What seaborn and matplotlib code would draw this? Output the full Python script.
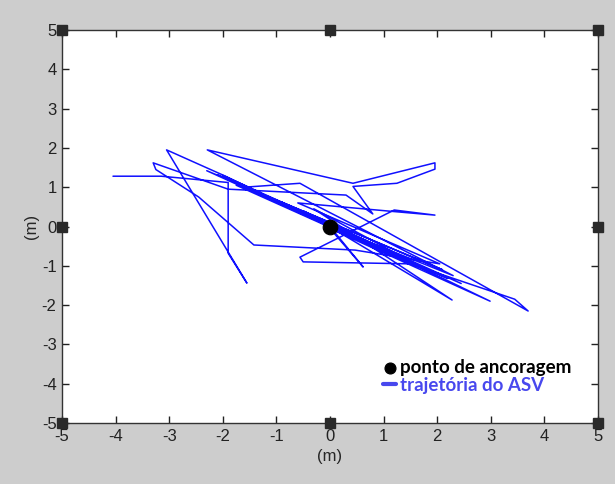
import pandas as pd
import matplotlib.pyplot as plt
import seaborn as sns

# trajectory of the ASV (m)
traj_x = [-4.05, -3.15, -1.90, -1.90, -1.55, -3.05, -1.95, 0.00, 2.30, -2.29,
          0.43, 1.96, 1.96, 1.25, 0.43, 0.80, 0.30, -1.90, -3.30, -3.25,
          -2.45, -1.42, 0.47, 2.05, -0.60, 1.20, 1.96, 1.20, -0.56, -0.50,
          1.50, 3.45, 3.70, -0.56, -1.60, 2.45, -2.00, 0.00, 0.62, 0.00,
          2.99, -0.50, 2.28, -0.30, 1.90, -2.10, 2.20, -1.20, 1.60, -1.75,
          1.10, -0.90, 2.10, -2.30, 0.00]
traj_y = [1.28, 1.28, 1.12, -0.68, -1.44, 1.95, 1.28, 0.00, -1.25, 1.95,
          1.10, 1.62, 1.46, 1.10, 1.02, 0.32, 0.80, 0.95, 1.62, 1.45,
          0.75, -0.47, -0.60, -0.95, 0.60, 0.38, 0.29, 0.42, -0.78, -0.90,
          -0.95, -1.85, -2.15, 1.10, 1.00, -1.45, 1.30, 0.00, -1.03, -0.05,
          -1.90, 0.40, -1.87, 0.45, -1.18, 1.32, -1.32, 0.75, -1.00, 1.05,
          -0.62, 0.62, -1.10, 1.42, 0.00]

anchor_x = [0.0]
anchor_y = [0.0]

ticks = [-5, -4, -3, -2, -1, 0, 1, 2, 3, 4, 5]
handle_x = [-5, 0, 5, -5, 5, -5, 0, 5]
handle_y = [5, 5, 5, 0, 0, -5, -5, -5]

traj = pd.DataFrame({'x': traj_x, 'y': traj_y})
anchor = pd.DataFrame({'x': anchor_x, 'y': anchor_y})

sns.set_style("ticks")
plt.rcParams['font.family'] = ['Liberation Sans', 'DejaVu Sans']
plt.rcParams['axes.unicode_minus'] = False

fig = plt.figure(figsize=(6.15, 4.84), dpi=100, facecolor='#cdcdcd')
ax = fig.add_axes([0.101, 0.126, 0.871, 0.812])
ax.set_facecolor('white')

sns.lineplot(data=traj, x='x', y='y', sort=False, estimator=None, color='#1010ff',
             lw=1.1, ax=ax, label='trajetória do ASV', zorder=2)
sns.scatterplot(data=anchor, x='x', y='y', color='black', s=110, ax=ax,
                label='ponto de ancoragem', zorder=3, edgecolor='black')

# figure edit handles on the box
ax.plot(handle_x, handle_y, ls='none', marker='s', ms=7, color='#2a2a2a',
        clip_on=False, zorder=5)

ax.set_xlim(-5, 5)
ax.set_ylim(-5, 5)
ax.set_xticks(ticks)
ax.set_yticks(ticks)
ax.tick_params(direction='in', top=True, right=True, length=5, width=1,
               labelsize=12, colors='#222222', pad=4)
for s in ax.spines.values():
    s.set_visible(True)
    s.set_color('#333333')
    s.set_linewidth(1.0)

ax.set_xlabel('(m)', fontsize=12, labelpad=4)
ax.set_ylabel('(m)', fontsize=12, labelpad=2)

h, l = ax.get_legend_handles_labels()
leg = ax.legend([h[1], h[0]], [l[1], l[0]], loc='lower right',
                bbox_to_anchor=(0.965, 0.055), frameon=False, handlelength=0.7,
                handletextpad=0.2, labelspacing=0.05, borderaxespad=0,
                markerscale=0.75,
                prop={'family': 'Lato', 'weight': 'bold', 'size': 13.5})
leg.legend_handles[1].set_linewidth(3)
leg.legend_handles[1].set_color('#4848ee')
leg.get_texts()[0].set_color('black')
leg.get_texts()[1].set_color('#4848ee')

fig.savefig('out.png', dpi=100, facecolor=fig.get_facecolor())
